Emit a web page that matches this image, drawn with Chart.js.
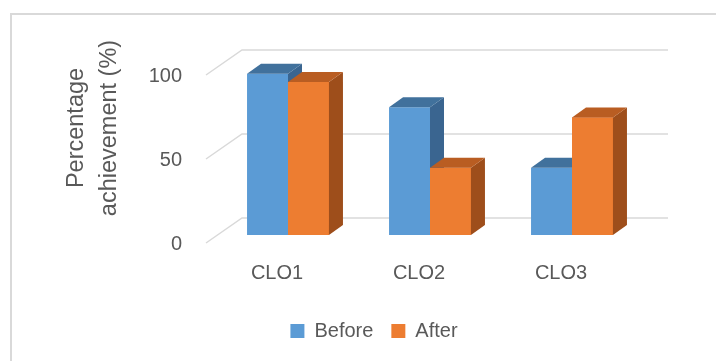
<!DOCTYPE html>
<html>
<head>
<meta charset="utf-8">
<script src="https://cdn.jsdelivr.net/npm/chart.js@4/dist/chart.umd.min.js"></script>
<style>
  html, body { margin: 0; padding: 0; background: #fff; }
  #wrap { position: relative; width: 716px; height: 361px; overflow: hidden; }
  #frame { position: absolute; left: 10px; top: 13px; width: 720px; height: 360px;
           border-top: 2px solid #d9d9d9; border-left: 2px solid #d9d9d9; box-sizing: border-box; }
  canvas { position: absolute; left: 0; top: 0; }
</style>
</head>
<body>
<div id="wrap">
  <div id="frame"></div>
  <canvas id="c" width="716" height="361"></canvas>
</div>
<script>
// Course learning outcomes and achievement before/after the intervention
const categories = ['CLO1', 'CLO2', 'CLO3'];
const beforeValues = [96, 76, 40];
const afterValues = [91, 40, 70];
const yTicks = [0, 50, 100];
const yTitleLines = ['Percentage', 'achievement (%)'];

const FONT = "'Liberation Sans', Arial, sans-serif";
const TEXT = '#595959';
const GRID = '#d9d9d9';

// depth of the floor (front edge -> back wall) and of each bar
const FLOOR_FRONT = { dx: -11, dy: 8 };
const FLOOR_BACK = { dx: 25, dy: -17 };
const BAR_DEPTH = { dx: 14, dy: 10 };

const faceColors = [
  { top: '#41719c', side: '#3a6590' },
  { top: '#b95d22', side: '#9e4e1b' }
];

function drawFaces(ctx, bar, colors) {
  const p = bar.getProps(['x', 'y', 'base', 'width'], true);
  const l = p.x - p.width / 2, r = p.x + p.width / 2;
  const dx = BAR_DEPTH.dx, dy = BAR_DEPTH.dy;
  ctx.fillStyle = colors.side;
  ctx.beginPath();
  ctx.moveTo(r, p.y); ctx.lineTo(r + dx, p.y - dy);
  ctx.lineTo(r + dx, p.base - dy); ctx.lineTo(r, p.base);
  ctx.closePath(); ctx.fill();
  ctx.fillStyle = colors.top;
  ctx.beginPath();
  ctx.moveTo(l, p.y); ctx.lineTo(r, p.y);
  ctx.lineTo(r + dx, p.y - dy); ctx.lineTo(l + dx, p.y - dy);
  ctx.closePath(); ctx.fill();
}

const box3d = {
  id: 'box3d',
  beforeDatasetsDraw(chart) {
    const { ctx, chartArea: ca, scales: { y } } = chart;
    ctx.save();
    ctx.strokeStyle = GRID;
    ctx.lineWidth = 1.5;
    yTicks.forEach(v => {
      const py = y.getPixelForValue(v);
      ctx.beginPath();
      ctx.moveTo(ca.left + FLOOR_FRONT.dx, py + FLOOR_FRONT.dy);
      ctx.lineTo(ca.left + FLOOR_BACK.dx, py + FLOOR_BACK.dy);
      ctx.lineTo(ca.right + FLOOR_BACK.dx, py + FLOOR_BACK.dy);
      ctx.stroke();
    });
    ctx.restore();
  },
  afterDatasetsDraw(chart) {
    const ctx = chart.ctx;
    const m0 = chart.getDatasetMeta(0), m1 = chart.getDatasetMeta(1);
    ctx.save();
    m0.data.forEach(b => drawFaces(ctx, b, faceColors[0]));
    m1.data.forEach(b => b.draw(ctx));
    m1.data.forEach(b => drawFaces(ctx, b, faceColors[1]));
    ctx.restore();
  },
  afterDraw(chart) {
    const ctx = chart.ctx;
    ctx.save();
    ctx.fillStyle = TEXT;
    ctx.font = '23.5px ' + FONT;
    ctx.textAlign = 'center';
    ctx.textBaseline = 'middle';
    ctx.translate(77, 128);
    ctx.rotate(-Math.PI / 2);
    yTitleLines.forEach((t, i) => ctx.fillText(t, 0, i * 33));
    ctx.restore();
  }
};

new Chart(document.getElementById('c'), {
  type: 'bar',
  data: {
    labels: categories,
    datasets: [
      { label: 'Before', data: beforeValues, backgroundColor: '#5b9bd5' },
      { label: 'After', data: afterValues, backgroundColor: '#ed7d31' }
    ]
  },
  options: {
    responsive: false,
    animation: false,
    devicePixelRatio: 1,
    layout: { padding: { left: 105, right: 73, top: 67, bottom: 10 } },
    datasets: { bar: { barPercentage: 1, categoryPercentage: 0.577 } },
    scales: {
      x: {
        grid: { display: false, drawTicks: false },
        border: { display: false },
        ticks: { color: TEXT, font: { family: FONT, size: 20 }, padding: 26, labelOffset: -11 },
        afterFit(s) { s.height = 68; }
      },
      y: {
        min: 0, max: 100,
        afterBuildTicks(s) { s.ticks = yTicks.map(v => ({ value: v })); },
        grid: { display: false, drawTicks: false },
        border: { display: false },
        ticks: { color: TEXT, font: { family: FONT, size: 20 }, padding: 35, labelOffset: 9 },
        afterFit(s) { s.width = 112; }
      }
    },
    plugins: {
      legend: {
        position: 'bottom',
        labels: { color: TEXT, font: { family: FONT, size: 20 }, boxWidth: 14, boxHeight: 14, padding: 18 }
      },
      tooltip: { enabled: false }
    }
  },
  plugins: [box3d]
});
</script>
</body>
</html>
